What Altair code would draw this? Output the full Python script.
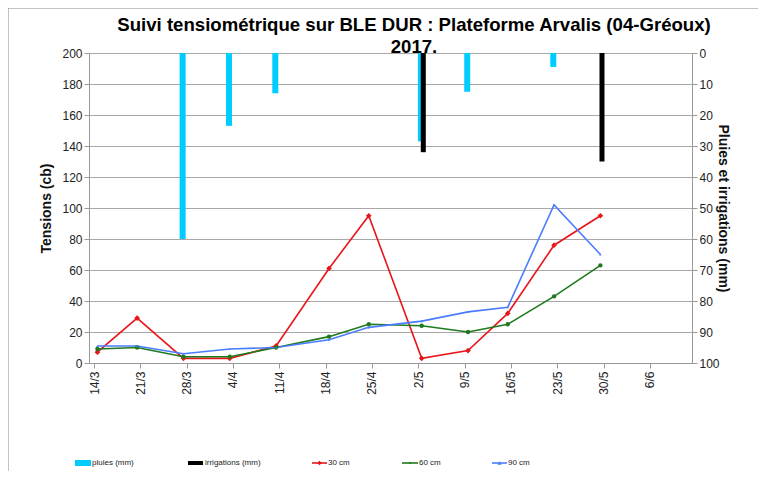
import json
import altair as alt
import pandas as pd

# ---------------- data ----------------
start_date = "2017-03-14"
tick_labels = ["14/3", "21/3", "28/3", "4/4", "11/4", "18/4", "25/4",
               "2/5", "9/5", "16/5", "23/5", "30/5", "6/6"]

point_dates = ["2017-03-14", "2017-03-20", "2017-03-27", "2017-04-03",
               "2017-04-10", "2017-04-18", "2017-04-24", "2017-05-02",
               "2017-05-09", "2017-05-15", "2017-05-22", "2017-05-29"]
t30 = [7, 29, 3, 3, 11, 61, 95, 3, 8, 32, 76, 95]
t60 = [9, 10, 4, 4, 10, 17, 25, 24, 20, 25, 43, 63]
t90 = [11, 11, 6, 9, 10, 15, 23, 27, 33, 36, 102, 70]

rain_dates = ["2017-03-27", "2017-04-03", "2017-04-10", "2017-05-02",
              "2017-05-09", "2017-05-22"]
rain_mm = [60, 23.5, 13, 28.5, 12.5, 4.5]

irr_dates = ["2017-05-02", "2017-05-29"]
irr_mm = [32, 35]

series_names = ["30 cm", "60 cm", "90 cm"]
series_colors = ["#e8151b", "#1e7a1e", "#4a7cff"]
series_shapes = ["diamond", "circle", "triangle-up"]
series_sizes = [32, 6, 28]

legend_names = ["pluies (mm)", "irrigations (mm)", "30 cm", "60 cm", "90 cm"]

title_lines = ["Suivi tensiométrique sur BLE DUR : Plateforme Arvalis (04-Gréoux)",
               "2017."]

# ---------------- build tables ----------------
t0 = pd.Timestamp(start_date)


def day(s):
    return (pd.Timestamp(s) - t0).days


rows = []
for name, vals in zip(series_names, [t30, t60, t90]):
    for d, v in zip(point_dates, vals):
        rows.append({"serie": name, "day": day(d), "cb": v})
lines_df = pd.DataFrame(rows)
rain_df = pd.DataFrame({"day": [day(d) for d in rain_dates], "mm": rain_mm})
irr_df = pd.DataFrame({"day": [day(d) for d in irr_dates], "mm": irr_mm})

W, H = 603, 310
FONT = "Liberation Sans"
GRID = "#a8a8a8"

label_expr = json.dumps(tick_labels) + "[round(datum.value/7)]"

x_scale = alt.Scale(domain=[0, 89.6], nice=False, zero=False)
x_axis = alt.Axis(values=list(range(0, 85, 7)), labelExpr=label_expr,
                  labelAngle=-90, labelFontSize=12, labelColor="#222",
                  labelFont=FONT, title=None, grid=False, domainColor="#999",
                  tickColor="#999", tickSize=5, labelPadding=3)
X = alt.X("day:Q", scale=x_scale, axis=x_axis)

# ---------------- bars (right axis) ----------------
y_right = alt.Y("mm:Q", scale=alt.Scale(domain=[0, 100], reverse=True, nice=False),
                axis=alt.Axis(orient="right", values=list(range(0, 101, 10)),
                              grid=False, title="Pluies et irrigations (mm)",
                              titleFontSize=14, titleFont=FONT, titleFontWeight="bold",
                              titleColor="#111", labelFontSize=12, labelFont=FONT,
                              labelColor="#222", domainColor="#999", tickColor="#999",
                              tickSize=5, titlePadding=-4))

rain_bars = alt.Chart(rain_df).mark_bar(size=6, color="#00ccff", xOffset=2.6).encode(
    x=X, y=y_right, y2=alt.datum(0))
irr_bars = alt.Chart(irr_df).mark_bar(size=5, color="#000000", xOffset=5).encode(
    x=X, y=y_right, y2=alt.datum(0))
bars = alt.layer(rain_bars, irr_bars)

# ---------------- lines (left axis) ----------------
y_left = alt.Y("cb:Q", scale=alt.Scale(domain=[0, 200], nice=False),
               axis=alt.Axis(orient="left", values=list(range(0, 201, 20)),
                             grid=True, gridColor=GRID, gridOpacity=1,
                             title="Tensions (cb)", titleFontSize=14, titleFont=FONT,
                             titleFontWeight="bold", titleColor="#111",
                             labelFontSize=12, labelFont=FONT, labelColor="#222",
                             domainColor="#999", tickColor="#999", tickSize=5,
                             titlePadding=8))
color = alt.Color("serie:N", scale=alt.Scale(domain=series_names, range=series_colors),
                  legend=None)

lines = alt.Chart(lines_df).mark_line(strokeWidth=1.6, xOffset=3.4).encode(
    x=X, y=y_left, color=color, order="day:Q")
points = alt.Chart(lines_df).mark_point(filled=True, opacity=1, xOffset=3.4).encode(
    x=X, y=y_left, color=color,
    shape=alt.Shape("serie:N", scale=alt.Scale(domain=series_names, range=series_shapes),
                    legend=None),
    size=alt.Size("serie:N", scale=alt.Scale(domain=series_names, range=series_sizes),
                  legend=None))

# ---------------- decorations: title, legend, frame ----------------
one = pd.DataFrame({"k": [0]})

frame = alt.Chart(one).mark_rect(fill=None, stroke="#888", strokeWidth=1).encode(
    x=alt.value(-81), x2=alt.value(W + 120), y=alt.value(-45), y2=alt.value(H + 300))

title_layers = []
for txt, yv in zip(title_lines, [-22, 0]):
    title_layers.append(
        alt.Chart(pd.DataFrame({"t": [txt]})).mark_text(
            font=FONT, fontSize=18.6, fontWeight="bold", color="#000",
            align="center", baseline="alphabetic").encode(
            text="t:N", x=alt.value(325), y=alt.value(yv)))

leg_y = 410
leg_layers = []
for name, col, x0, x1, hh in [(legend_names[0], "#00ccff", -14, 2, 3),
                              (legend_names[1], "#000000", 99, 114, 2)]:
    leg_layers.append(alt.Chart(pd.DataFrame({"t": [name]})).mark_rect(color=col).encode(
        x=alt.value(x0), x2=alt.value(x1), y=alt.value(leg_y - hh), y2=alt.value(leg_y + hh)))
for name, col, shp, sz, x0, x1 in zip(series_names, series_colors, series_shapes,
                                      series_sizes, [223, 313, 403], [238, 329, 418]):
    leg_layers.append(alt.Chart(pd.DataFrame({"t": [name]})).mark_rule(color=col, strokeWidth=1.6).encode(
        x=alt.value(x0), x2=alt.value(x1), y=alt.value(leg_y)))
    leg_layers.append(alt.Chart(pd.DataFrame({"t": [name]})).mark_point(
        color=col, filled=True, opacity=1, size=sz * 0.6, shape=shp).encode(
        x=alt.value((x0 + x1) / 2), y=alt.value(leg_y)))
for name, xl in zip(legend_names, [3, 116, 239, 330, 419]):
    leg_layers.append(alt.Chart(pd.DataFrame({"t": [name]})).mark_text(
        font=FONT, fontSize=8, color="#222", align="left", baseline="middle").encode(
        text="t:N", x=alt.value(xl), y=alt.value(leg_y)))

line_group = alt.layer(lines, points, *title_layers, *leg_layers, frame)

chart = alt.layer(bars, line_group).resolve_scale(y="independent").properties(
    width=W, height=H,
    autosize=alt.AutoSizeParams(type="none"),
    padding={"left": 81, "top": 45, "right": 66, "bottom": 108},
).configure_view(stroke=None).configure(background="white")

chart.save("out.html", embed_options={"renderer": "svg", "actions": False})
